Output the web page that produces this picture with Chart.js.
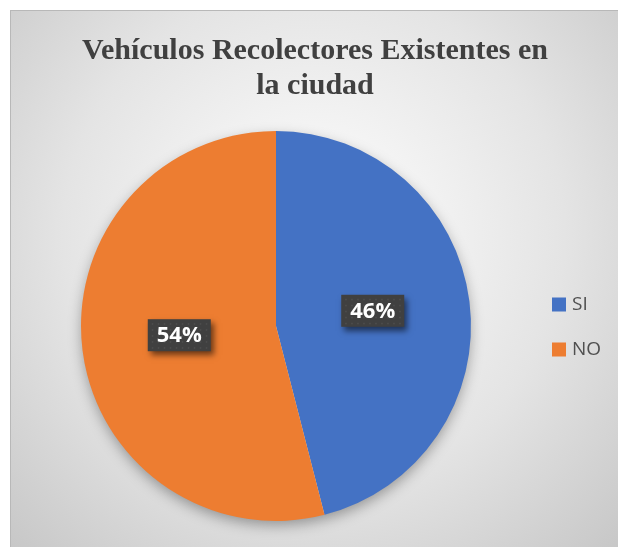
<!DOCTYPE html>
<html>
<head>
<meta charset="utf-8">
<script src="https://cdn.jsdelivr.net/npm/chart.js@4.4.0/dist/chart.umd.min.js"></script>
<style>
  html, body { margin: 0; padding: 0; background: #fff; }
  #wrap { position: absolute; left: 10px; top: 10px; width: 608px; height: 537px; }
</style>
</head>
<body>
<div id="wrap"><canvas id="pie"></canvas></div>
<script>
const labels = ["SI", "NO"];
const values = [46, 54];
const colors = ["#4472c4", "#ed7d31"];
const titleLines = ["Vehículos Recolectores Existentes en", "la ciudad"];

// background gradient + frame
const bgPlugin = {
  id: "bg",
  beforeDraw(chart) {
    const c = chart.ctx, w = chart.width, h = chart.height;
    const g = c.createRadialGradient(w * 0.5, h * 0.42, 0, w * 0.5, h * 0.42, w * 0.75);
    g.addColorStop(0, "#ffffff");
    g.addColorStop(0.55, "#e4e4e4");
    g.addColorStop(1, "#c4c4c4");
    c.save();
    c.fillStyle = g;
    c.fillRect(0, 0, w, h);
    c.strokeStyle = "#b8b8b8";
    c.lineWidth = 1;
    c.strokeRect(0.5, 0.5, w + 5, h + 5);
    c.restore();
  },
  beforeDatasetsDraw(chart) {
    // soft shadow under the pie
    const arc = chart.getDatasetMeta(0).data[0];
    const c = chart.ctx;
    c.save();
    c.shadowColor = "rgba(0,0,0,0.35)";
    c.shadowBlur = 14;
    c.shadowOffsetY = 5;
    c.fillStyle = "#ddd";
    c.beginPath();
    c.arc(arc.x, arc.y, arc.outerRadius - 1, 0, Math.PI * 2);
    c.fill();
    c.restore();
  }
};

// data labels, title and legend
const labelPlugin = {
  id: "labels",
  afterDatasetsDraw(chart) {
    const c = chart.ctx;
    const total = values.reduce((a, b) => a + b, 0);
    const meta = chart.getDatasetMeta(0);
    c.save();
    meta.data.forEach((arc, i) => {
      const mid = (arc.startAngle + arc.endAngle) / 2;
      const r = arc.outerRadius * 0.5;
      const x = arc.x + Math.cos(mid) * r;
      const y = arc.y + Math.sin(mid) * r - 3;
      const txt = Math.round(values[i] / total * 100) + "%";
      const bw = 63, bh = 32;
      c.save();
      c.shadowColor = "rgba(0,0,0,0.55)";
      c.shadowBlur = 6;
      c.shadowOffsetX = 3;
      c.shadowOffsetY = 4;
      c.fillStyle = "#404040";
      c.fillRect(x - bw / 2, y - bh / 2, bw, bh);
      c.restore();
      // dotted texture
      c.fillStyle = "rgba(255,255,255,0.08)";
      for (let dx = 4; dx < bw; dx += 6) {
        for (let dy = 4; dy < bh; dy += 6) {
          c.fillRect(x - bw / 2 + dx, y - bh / 2 + dy, 1.5, 1.5);
        }
      }
      c.fillStyle = "#ffffff";
      c.font = "bold 22px 'Open Sans', sans-serif";
      c.textAlign = "center";
      c.textBaseline = "middle";
      c.fillText(txt, x, y + 1);
    });

    // title
    c.fillStyle = "#404040";
    c.font = "bold 30px 'Liberation Serif', serif";
    c.textAlign = "center";
    c.textBaseline = "middle";
    c.fillText(titleLines[0], 305, 41);
    c.fillText(titleLines[1], 305, 76);

    // legend
    c.font = "19px 'Open Sans', sans-serif";
    c.textAlign = "left";
    labels.forEach((lab, i) => {
      const ly = 294 + i * 45;
      c.fillStyle = colors[i];
      c.fillRect(542, ly - 6.5, 14, 14);
      c.fillStyle = "#505050";
      c.fillText(lab, 562, ly + 1);
    });
    c.restore();
  }
};

new Chart(document.getElementById("pie"), {
  type: "pie",
  data: {
    labels: labels,
    datasets: [{
      data: values,
      backgroundColor: colors,
      borderColor: "#ffffff",
      borderWidth: 0
    }]
  },
  options: {
    responsive: true,
    maintainAspectRatio: false,
    animation: false,
    rotation: 0,
    layout: { padding: { left: 71, right: 147, top: 121, bottom: 26 } },
    plugins: {
      legend: { display: false },
      title: { display: false },
      tooltip: { enabled: false }
    }
  },
  plugins: [bgPlugin, labelPlugin]
});
</script>
</body>
</html>
